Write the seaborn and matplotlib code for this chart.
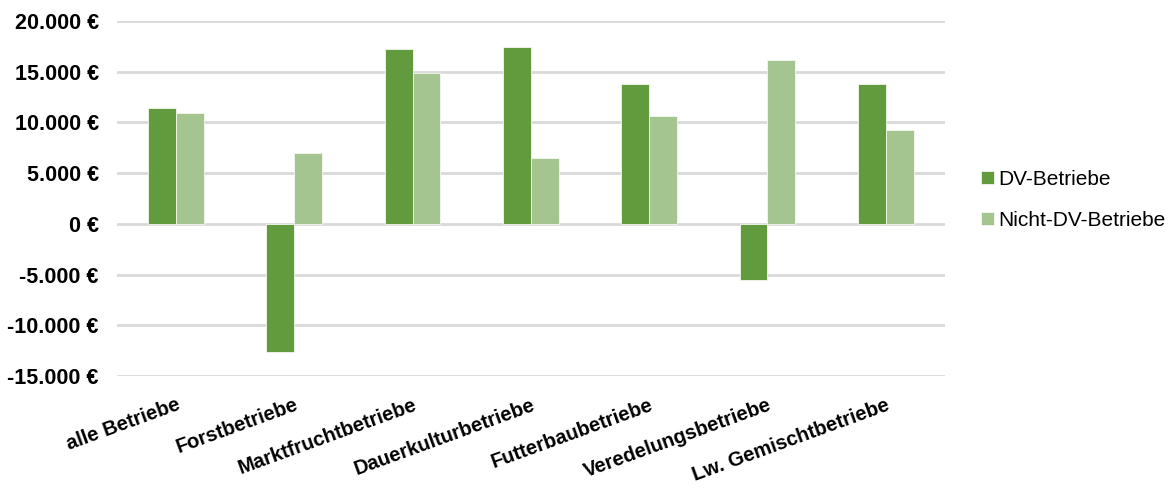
import matplotlib
matplotlib.use("Agg")
import matplotlib.pyplot as plt
import seaborn as sns
import pandas as pd
from matplotlib.ticker import FuncFormatter

# Betriebsformen und Werte je Gruppe (Euro)
categories = ["alle Betriebe", "Forstbetriebe", "Marktfruchtbetriebe",
              "Dauerkulturbetriebe", "Futterbaubetriebe",
              "Veredelungsbetriebe", "Lw. Gemischtbetriebe"]
series_names = ["DV-Betriebe", "Nicht-DV-Betriebe"]
dv_values = [11400, -12600, 17250, 17400, 13750, -5500, 13800]
nicht_dv_values = [10900, 6950, 14900, 6500, 10650, 16150, 9250]
y_ticks = [-15000, -10000, -5000, 0, 5000, 10000, 15000, 20000]

colors = ["#629a3e", "#a5c590"]

df = pd.DataFrame({
    "Betriebsform": categories * 2,
    "Gruppe": [series_names[0]] * len(categories) + [series_names[1]] * len(categories),
    "Wert": dv_values + nicht_dv_values,
})

sns.set_theme(style="white")
plt.rcParams["font.family"] = ["Liberation Sans", "DejaVu Sans"]
plt.rcParams["text.color"] = "black"
plt.rcParams["xtick.color"] = "black"
plt.rcParams["ytick.color"] = "black"

fig = plt.figure(figsize=(11.68, 4.99), dpi=100)
ax = fig.add_axes([0.1, 0.2465, 0.709, 0.7115])

sns.barplot(data=df, x="Betriebsform", y="Wert", hue="Gruppe",
            palette=colors, saturation=1, width=0.47, ax=ax, legend=True,
            edgecolor="#f4f8f0", linewidth=0.6)

ax.set_ylim(-15000, 20000)
ax.set_xlim(-0.5, len(categories) - 0.5)
ax.set_yticks(y_ticks)
ax.yaxis.set_major_formatter(FuncFormatter(
    lambda v, _: f"{int(v):,} €".replace(",", ".")))
ax.grid(axis="y", color="#d9d9d9", linewidth=2)
ax.set_axisbelow(True)
for s in ax.spines.values():
    s.set_visible(False)
ax.set_xlabel("")
ax.set_ylabel("")
ax.tick_params(axis="y", length=0, pad=13, labelsize=15.5, labelcolor="black")
ax.tick_params(axis="x", length=0, pad=14, labelsize=14.5, labelcolor="black")
for lbl in ax.get_yticklabels():
    lbl.set_fontweight("bold")
for lbl in ax.get_xticklabels():
    lbl.set_fontweight("bold")
    lbl.set_rotation(20)
    lbl.set_ha("right")
    lbl.set_rotation_mode("anchor")

handles, labels = ax.get_legend_handles_labels()
ax.legend_.remove()
fig.legend(handles, labels, loc="center left", bbox_to_anchor=(0.84, 0.6),
           frameon=False, fontsize=15, handlelength=0.6, handleheight=0.6,
           handletextpad=0.2, labelspacing=1.05, borderaxespad=0, borderpad=0)

fig.savefig("out.png", dpi=100)
